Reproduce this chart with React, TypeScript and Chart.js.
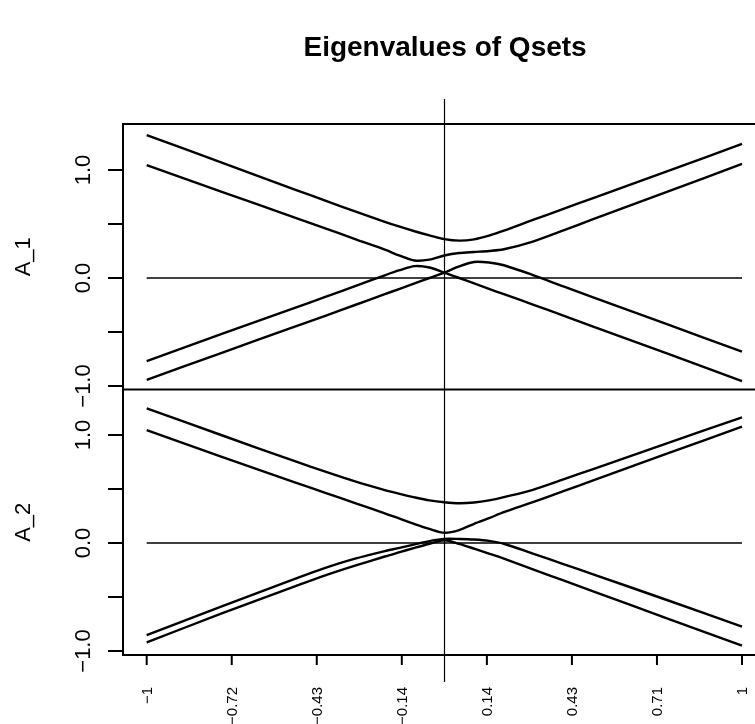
import React, { useEffect, useRef } from "react";
import { Chart, registerables } from "chart.js";
Chart.register(...registerables);

// shared x grid (parameter)
const xGrid = [-1, -0.75, -0.5, -0.4, -0.3, -0.2, -0.15, -0.1, -0.05, 0, 0.05, 0.1, 0.15, 0.2, 0.3, 0.4, 0.5, 0.75, 1];

// panel A_1 eigenvalue curves
const a1Line1 = [1.324, 1.07, 0.817, 0.716, 0.617, 0.52, 0.475, 0.433, 0.395, 0.36, 0.346, 0.358, 0.392, 0.438, 0.54, 0.64, 0.74, 0.99, 1.241];
const a1Line2 = [1.046, 0.8, 0.557, 0.46, 0.36, 0.262, 0.207, 0.162, 0.17, 0.208, 0.231, 0.241, 0.25, 0.266, 0.34, 0.44, 0.545, 0.8, 1.056];
const a1Line3 = [-0.769, -0.52, -0.274, -0.175, -0.075, 0.025, 0.072, 0.11, 0.097, 0.05, 0.0, -0.05, -0.1, -0.15, -0.248, -0.348, -0.45, -0.7, -0.954];
const a1Line4 = [-0.944, -0.695, -0.448, -0.35, -0.25, -0.15, -0.1, -0.05, 0.0, 0.05, 0.108, 0.148, 0.143, 0.118, 0.025, -0.078, -0.18, -0.43, -0.682];

// panel A_2 eigenvalue curves
const a2Line1 = [1.247, 1.0, 0.755, 0.66, 0.57, 0.49, 0.455, 0.423, 0.395, 0.377, 0.368, 0.375, 0.395, 0.425, 0.495, 0.59, 0.685, 0.925, 1.164];
const a2Line2 = [1.046, 0.8, 0.56, 0.465, 0.37, 0.275, 0.225, 0.175, 0.13, 0.095, 0.12, 0.178, 0.23, 0.285, 0.38, 0.48, 0.58, 0.83, 1.077];
const a2Line3 = [-0.852, -0.59, -0.33, -0.23, -0.145, -0.075, -0.045, -0.012, 0.018, 0.038, 0.037, 0.032, 0.02, -0.007, -0.1, -0.195, -0.29, -0.53, -0.775];
const a2Line4 = [-0.92, -0.655, -0.4, -0.3, -0.21, -0.125, -0.085, -0.045, -0.007, 0.025, -0.008, -0.052, -0.098, -0.145, -0.247, -0.347, -0.447, -0.7, -0.951];

// zero reference segment
const zeroX = [-1, 1];
const zeroY = [0, 0];

// axis ticks and labels
const xTickValues = [-1, -0.7143, -0.4286, -0.1429, 0.1429, 0.4286, 0.7143, 1];
const xTickLabels = ["\u22121", "\u22120.72", "\u22120.43", "\u22120.14", "0.14", "0.43", "0.71", "1"];
const yTickValues = [-1, -0.5, 0, 0.5, 1];
const yLabelValues = [-1, 0, 1];
const yLabelTexts = ["\u22121.0", "0.0", "1.0"];
const panelNames = ["A_1", "A_2"];
const titleText = "Eigenvalues of Qsets";

// axis limits
const xRange = [-1.0796, 1.0437];
const topRange = [-1.0324, 1.4259];
const botRange = [-1.037, 1.4213];

const FONT = "'Liberation Sans', Arial, Helvetica, sans-serif";

const rPlot = {
  id: "rPlot",
  afterDatasetsDraw(chart: any) {
    const { ctx, chartArea: ca, scales } = chart;
    const xs = scales.x;
    const yt = scales.yTop;
    const yb = scales.yBot;
    ctx.save();
    ctx.strokeStyle = "#000";
    ctx.fillStyle = "#000";

    // vertical reference line at x = 0, extending beyond the plot
    const x0 = Math.round(xs.getPixelForValue(0)) + 0.5;
    ctx.lineWidth = 1.2;
    ctx.beginPath();
    ctx.moveTo(x0, ca.top - 25);
    ctx.lineTo(x0, ca.bottom + 27);
    ctx.stroke();

    // frame
    const sepY = yt.getPixelForValue(topRange[0]);
    ctx.lineWidth = 2;
    ctx.beginPath();
    ctx.moveTo(ca.right + 5, ca.top);
    ctx.lineTo(ca.left, ca.top);
    ctx.lineTo(ca.left, ca.bottom);
    ctx.lineTo(ca.right + 5, ca.bottom);
    ctx.moveTo(ca.left, sepY);
    ctx.lineTo(ca.right + 5, sepY);
    ctx.stroke();

    // y ticks
    const panels = [yt, yb];
    panels.forEach((sc: any, pi: number) => {
      ctx.beginPath();
      yTickValues.forEach((v) => {
        const py = sc.getPixelForValue(v);
        ctx.moveTo(ca.left - 15, py);
        ctx.lineTo(ca.left, py);
      });
      ctx.stroke();
      ctx.font = "22px " + FONT;
      ctx.textAlign = "center";
      ctx.textBaseline = "alphabetic";
      yLabelValues.forEach((v, i) => {
        const py = sc.getPixelForValue(v);
        ctx.save();
        ctx.translate(ca.left - 33, py);
        ctx.rotate(-Math.PI / 2);
        ctx.fillText(yLabelTexts[i], 0, 0);
        ctx.restore();
      });
      const r = pi === 0 ? topRange : botRange;
      const mid = (sc.getPixelForValue(r[0]) + sc.getPixelForValue(r[1])) / 2;
      ctx.save();
      ctx.translate(30, mid);
      ctx.rotate(-Math.PI / 2);
      ctx.fillText(panelNames[pi], 0, 0);
      ctx.restore();
    });

    // x ticks
    ctx.beginPath();
    xTickValues.forEach((v) => {
      const px = xs.getPixelForValue(v);
      ctx.moveTo(px, ca.bottom);
      ctx.lineTo(px, ca.bottom + 10);
    });
    ctx.stroke();
    ctx.font = "15px " + FONT;
    ctx.textAlign = "right";
    ctx.textBaseline = "alphabetic";
    xTickValues.forEach((v, i) => {
      const px = xs.getPixelForValue(v);
      ctx.save();
      ctx.translate(px + 5.5, ca.bottom + 32);
      ctx.rotate(-Math.PI / 2);
      ctx.fillText(xTickLabels[i], 0, 0);
      ctx.restore();
    });

    // title
    ctx.font = "bold 28px " + FONT;
    ctx.textAlign = "center";
    ctx.textBaseline = "alphabetic";
    ctx.fillText(titleText, (ca.left + xs.getPixelForValue(xRange[1] + 0.034)) / 2 + 1, 56);
    ctx.restore();
  },
};

export default function App() {
  const ref = useRef<HTMLCanvasElement | null>(null);
  useEffect(() => {
    if (!ref.current) return;
    const topMin = topRange[0] - (botRange[1] - botRange[0]);
    const botMax = botRange[1] + (topRange[1] - topRange[0]);
    const curve = (ys: number[], axis: string) => ({
      data: xGrid.map((x, i) => ({ x, y: ys[i] })),
      yAxisID: axis,
      borderColor: "#000",
      borderWidth: 2.4,
      pointRadius: 0,
      fill: false,
      tension: 0.3,
    });
    const zero = (axis: string) => ({
      data: zeroX.map((x, i) => ({ x, y: zeroY[i] })),
      yAxisID: axis,
      borderColor: "#000",
      borderWidth: 1.5,
      pointRadius: 0,
      fill: false,
    });
    const chart = new Chart(ref.current, {
      type: "line",
      data: {
        datasets: [
          zero("yTop"),
          curve(a1Line1, "yTop"),
          curve(a1Line2, "yTop"),
          curve(a1Line3, "yTop"),
          curve(a1Line4, "yTop"),
          zero("yBot"),
          curve(a2Line1, "yBot"),
          curve(a2Line2, "yBot"),
          curve(a2Line3, "yBot"),
          curve(a2Line4, "yBot"),
        ],
      },
      options: {
        animation: false,
        responsive: false,
        devicePixelRatio: 1,
        layout: { padding: { left: 123, top: 124, right: 0, bottom: 69 } },
        plugins: { legend: { display: false }, tooltip: { enabled: false }, title: { display: false } },
        scales: {
          x: { type: "linear", min: xRange[0], max: xRange[1], display: false },
          yTop: { type: "linear", min: topMin, max: topRange[1], display: false },
          yBot: { type: "linear", min: botRange[0], max: botMax, display: false },
        },
      },
      plugins: [rPlot],
    });
    return () => chart.destroy();
  }, []);
  return (
    <div style={{ position: "fixed", left: 0, top: 0, width: 755, height: 724, background: "#fff" }}>
      <canvas ref={ref} width={755} height={724} />
    </div>
  );
}
